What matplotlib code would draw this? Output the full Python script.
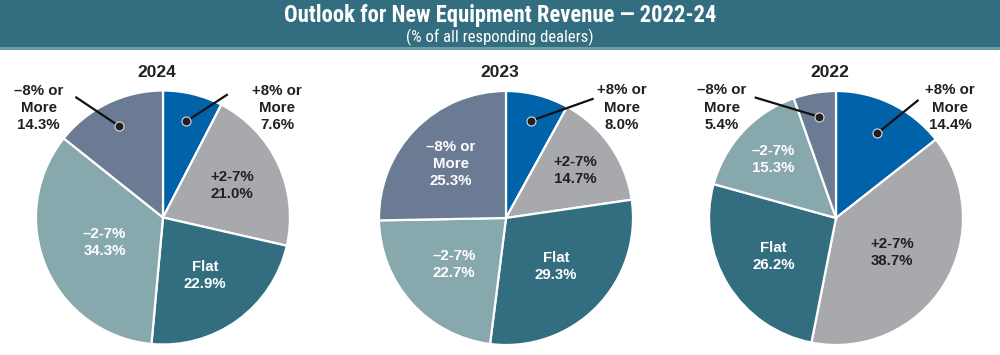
import numpy as np
import matplotlib
matplotlib.use("Agg")
import matplotlib.pyplot as plt
from matplotlib.patches import Rectangle

# ----------------------------
# DATA
# ----------------------------
categories = ["+8% or\nMore", "+2-7%", "Flat", "\u20132-7%", "\u20138% or\nMore"]
years = ["2024", "2023", "2022"]
share_2024 = [7.6, 21.0, 22.9, 34.3, 14.3]
share_2023 = [8.0, 14.7, 29.3, 22.7, 25.3]
share_2022 = [14.4, 38.7, 26.2, 15.3, 5.4]
shares = [share_2024, share_2023, share_2022]

colors = ["#0062a9", "#a7a9ac", "#336e80", "#87a9ad", "#6b7b94"]
text_colors = ["#231f20", "#231f20", "white", "white", "white"]

# label placement: radial distance inside wedge (fraction of radius);
# for called-out slices: (dot dist, line end xy, text xy) in radius units
inside_dist = [
    {1: 0.60, 2: 0.56, 3: 0.50},
    {1: 0.66, 2: 0.55, 3: 0.55, 4: 0.61},
    {1: 0.52, 2: 0.58, 3: 0.68},
]
callouts = [
    {0: (0.78, (0.51, 0.97), (0.90, 0.86)),
     4: (0.80, (-0.69, 0.95), (-0.98, 0.86))},
    {0: (0.79, (0.69, 0.94), (0.91, 0.87))},
    {0: (0.74, (0.65, 0.93), (0.90, 0.87)),
     4: (0.81, (-0.64, 0.95), (-0.90, 0.87))},
]

W, H = 1000, 355
R = 127  # pie radius in px
centers = [(163, 217.5), (506, 218), (836, 218)]

fig = plt.figure(figsize=(W / 100, H / 100), dpi=100)
fig.patch.set_facecolor("white")

# ----------------------------
# TITLE BAR
# ----------------------------
fig.patches.append(Rectangle((0, 1 - 47 / H), 1, 47 / H, transform=fig.transFigure,
                             facecolor="#336e80", edgecolor="none", zorder=0))
fig.patches.append(Rectangle((0, 1 - 49.5 / H), 1, 2.5 / H, transform=fig.transFigure,
                             facecolor="#6f9ba7", edgecolor="none", zorder=0))
title_font = ["Roboto Condensed", "Liberation Sans Narrow", "Roboto", "DejaVu Sans"]
fig.text(0.5, 1 - 22 / H, "Outlook for New Equipment Revenue \u2014 2022-24",
         ha="center", va="baseline", color="white", fontsize=16.3, fontweight="bold",
         family=title_font)
fig.text(0.5, 1 - 42 / H, "(% of all responding dealers)",
         ha="center", va="baseline", color="white", fontsize=12, family=title_font)

font = ["Liberation Sans", "DejaVu Sans"]
box = 170  # half size of each axes in px

for i, (cx, cy) in enumerate(centers):
    ax = fig.add_axes([(cx - box) / W, 1 - (cy + box) / H, 2 * box / W, 2 * box / H])
    wedges, _ = ax.pie(shares[i], colors=colors, startangle=90, counterclock=False,
                       radius=1, wedgeprops=dict(edgecolor="white", linewidth=1.6))
    ax.set_xlim(-box / R, box / R)
    ax.set_ylim(-box / R, box / R)
    ax.set_aspect("equal")
    ax.axis("off")

    ax.text(-0.05, 1.145, years[i], ha="center", va="center", fontsize=12.5,
            fontweight="bold", color="#231f20", family=font)

    for j, w in enumerate(wedges):
        ang = np.deg2rad((w.theta1 + w.theta2) / 2)
        label = f"{categories[j]}\n{shares[i][j]:.1f}%"
        if j in inside_dist[i]:
            d = inside_dist[i][j]
            ax.text(d * np.cos(ang), d * np.sin(ang), label, ha="center", va="center",
                    fontsize=10.8, fontweight="bold", color=text_colors[j],
                    linespacing=1.28, family=font)
        else:
            d, (lx, ly), (tx, ty) = callouts[i][j]
            px, py = d * np.cos(ang), d * np.sin(ang)
            ax.plot([px, lx], [py, ly], color="#111111", lw=1.6, zorder=5,
                    solid_capstyle="butt")
            ax.plot(px, py, "o", ms=6.5, color="#231f20", mec="#d8dde3", mew=0.8,
                    zorder=6)
            ax.text(tx, ty, label, ha="center", va="center", fontsize=10.8,
                    fontweight="bold", color="#231f20", linespacing=1.28,
                    family=font)

fig.savefig("out.png", dpi=100, facecolor="white")
